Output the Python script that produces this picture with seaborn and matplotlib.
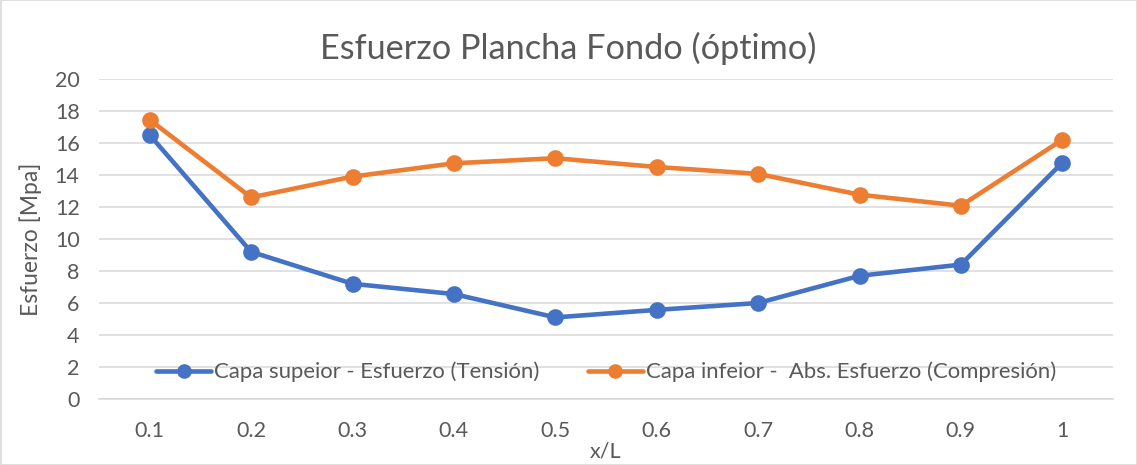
import matplotlib
matplotlib.use("Agg")
import matplotlib.pyplot as plt
import seaborn as sns
import pandas as pd
from matplotlib.patches import Rectangle
from matplotlib.lines import Line2D

# ---- data ----
x_labels = ["0.1", "0.2", "0.3", "0.4", "0.5", "0.6", "0.7", "0.8", "0.9", "1"]
tension = [16.5, 9.2, 7.2, 6.56, 5.1, 5.57, 6.0, 7.7, 8.4, 14.77]
compresion = [17.45, 12.6, 13.9, 14.73, 15.05, 14.5, 14.07, 12.77, 12.08, 16.2]
series_names = ["Capa supeior - Esfuerzo (Tensión)",
                "Capa infeior -  Abs. Esfuerzo (Compresión)"]
y_ticks = [0, 2, 4, 6, 8, 10, 12, 14, 16, 18, 20]

df = pd.DataFrame({
    "x": x_labels * 2,
    "val": tension + compresion,
    "serie": [series_names[0]] * len(x_labels) + [series_names[1]] * len(x_labels),
})

sns.set_theme(style="white")
plt.rcParams["font.family"] = ["Lato", "DejaVu Sans"]
TXT = "#595959"
GRID = "#D9D9D9"

fig = plt.figure(figsize=(11.37, 4.65), dpi=100)
ax = fig.add_axes([99 / 1137, 1 - 399 / 465, (1113 - 99) / 1137, 320 / 465])

palette = {series_names[0]: "#4472C4", series_names[1]: "#ED7D31"}
sns.pointplot(data=df, x="x", y="val", hue="serie", order=x_labels,
              hue_order=series_names, palette=palette, markers="o",
              linestyles="-", errorbar=None, markersize=9.5, linewidth=3.3,
              ax=ax, legend=False)

ax.set_ylim(0, 20)
ax.set_xlim(-0.5, len(x_labels) - 0.5)
ax.set_yticks(y_ticks)
ax.grid(axis="y", color=GRID, linewidth=1.1)
ax.grid(axis="x", visible=False)
ax.set_axisbelow(True)
for s in ["top", "right", "left"]:
    ax.spines[s].set_visible(False)
ax.spines["bottom"].set_color(GRID)
ax.spines["bottom"].set_linewidth(1.1)
ax.tick_params(axis="both", length=0, labelsize=15.5, labelcolor=TXT)
ax.tick_params(axis="y", pad=14)
ax.tick_params(axis="x", pad=16)
ax.set_xlabel("x/L", fontsize=15.5, color=TXT, labelpad=0)
ax.set_ylabel("Esfuerzo [Mpa]", fontsize=16.5, color=TXT, labelpad=9)
fig.text(0.5, 1 - 48 / 465, "Esfuerzo Plancha Fondo (óptimo)", ha="center",
         va="center", fontsize=24.7, color=TXT)

handles = [Line2D([], [], color=palette[n], marker="o", markersize=9.5,
                  linewidth=3.3) for n in series_names]
ax.legend(handles, series_names, loc="center", bbox_to_anchor=(0.5, 27 / 320),
          ncol=2, frameon=False, fontsize=15.9, handlelength=2.5,
          handletextpad=0.12, columnspacing=2.2, labelcolor=TXT,
          borderpad=0, borderaxespad=0)

fig.patches.append(Rectangle((0.5 / 1137, 0.5 / 465), 1 - 1 / 1137, 1 - 1 / 465,
                             transform=fig.transFigure, fill=False,
                             edgecolor=GRID, linewidth=1.2))
fig.savefig("out.png", dpi=100)
